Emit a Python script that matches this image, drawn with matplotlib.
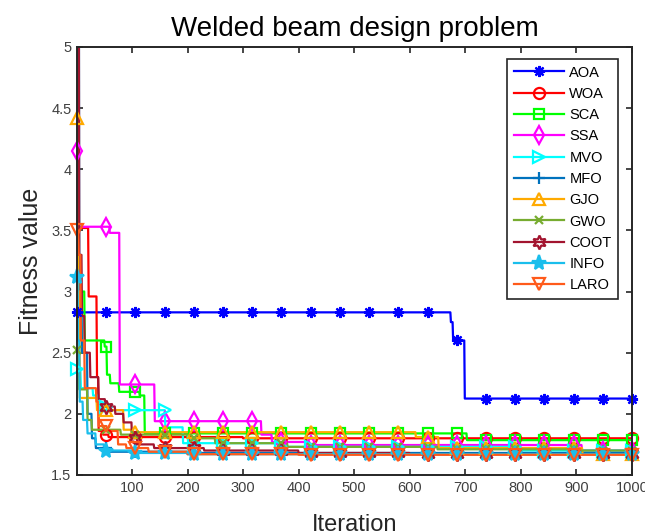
import numpy as np
import matplotlib
matplotlib.use("Agg")
import matplotlib.pyplot as plt
from matplotlib.lines import Line2D

plt.rcParams['font.family'] = ['Liberation Sans', 'DejaVu Sans']

n_iter = 1000
iterations = np.arange(1, n_iter + 1)

# Convergence curves stored as (iteration where the best value changes, new best value)
aoa_it = [1, 674, 678, 699]
aoa_val = [2.83, 2.75, 2.60, 2.125]

woa_it = [1, 3, 22, 37, 40, 48, 58, 300]
woa_val = [6.0, 3.52, 2.96, 2.30, 1.86, 1.83, 1.81, 1.80]

sca_it = [1, 2, 4, 15, 51, 55, 61, 77, 114, 123, 703]
sca_val = [6.0, 4.2, 3.0, 2.60, 2.55, 2.32, 2.25, 2.18, 2.15, 1.84, 1.785]

ssa_it = [1, 3, 60, 78, 141, 333, 352, 420, 910]
ssa_val = [4.15, 3.53, 3.48, 2.24, 1.94, 1.83, 1.77, 1.745, 1.70]

mvo_it = [1, 8, 30, 40, 55, 160, 192, 366, 800]
mvo_val = [2.37, 2.21, 2.15, 2.06, 2.03, 1.89, 1.76, 1.73, 1.70]

mfo_it = [1, 5, 10, 20, 28, 35, 60, 200]
mfo_val = [7.0, 3.0, 2.5, 2.0, 1.80, 1.72, 1.69, 1.68]

gjo_it = [1, 3, 6, 37, 85, 100, 611, 652, 911]
gjo_val = [4.42, 3.0, 2.13, 2.03, 1.87, 1.85, 1.81, 1.72, 1.67]

gwo_it = [1, 5, 20, 28, 80, 200, 250, 380, 650, 900]
gwo_val = [2.52, 2.20, 1.95, 1.87, 1.83, 1.80, 1.76, 1.73, 1.71, 1.70]

coot_it = [1, 5, 10, 15, 25, 40, 52, 70, 85, 100, 110, 140, 230, 400, 600]
coot_val = [6.5, 3.3, 2.8, 2.5, 2.3, 2.12, 2.06, 2.00, 1.93, 1.80, 1.75, 1.72, 1.70, 1.68, 1.67]

info_it = [1, 3, 6, 12, 20, 35, 50, 100, 200]
info_val = [3.12, 2.6, 2.1, 1.95, 1.84, 1.75, 1.70, 1.68, 1.67]

laro_it = [1, 4, 8, 15, 36, 40, 55, 75, 90, 130, 200, 400]
laro_val = [3.5, 3.3, 2.6, 2.21, 2.10, 1.90, 1.86, 1.75, 1.72, 1.69, 1.67, 1.665]

names = ['AOA', 'WOA', 'SCA', 'SSA', 'MVO', 'MFO', 'GJO', 'GWO', 'COOT', 'INFO', 'LARO']
curves = [(aoa_it, aoa_val), (woa_it, woa_val), (sca_it, sca_val), (ssa_it, ssa_val),
          (mvo_it, mvo_val), (mfo_it, mfo_val), (gjo_it, gjo_val), (gwo_it, gwo_val),
          (coot_it, coot_val), (info_it, info_val), (laro_it, laro_val)]

colors = ['#0000FF', '#FF0000', '#00FF00', '#FF00FF', '#00FFFF', '#0072BD',
          '#FFAA00', '#77AC30', '#A2142F', '#1ABEEC', '#FF5A1A']
markers = [(8, 2, 0), 'o', 's', 'd', '>', '+', '^', 'x', (6, 1, 0), '*', 'v']
filled = [False, False, False, False, False, False, False, False, False, True, False]
msizes = [8, 8, 7, 9, 9, 9, 9, 6, 10, 11, 9]

y_lo, y_hi = 1.5, 5.0


def step_curve(change_iters, values, n):
    bounds = list(change_iters) + [n + 1]
    counts = np.diff(bounds)
    return np.repeat(values, counts)


fig = plt.figure(figsize=(6.45, 5.31), dpi=100, facecolor='white')
ax = fig.add_axes([0.1194, 0.1055, 0.8605, 0.806])

mark_idx = np.round(np.linspace(0, n_iter - 1, 20)).astype(int)

handles = []
for name, (it, val), c, m, f, ms in zip(names, curves, colors, markers, filled, msizes):
    y = step_curve(it, val, n_iter)
    # line is clipped to the axes box
    ax.plot(iterations, y, color=c, lw=1.6, zorder=2)
    # markers stay whole at the box edge; those outside the y-range are dropped
    xm = iterations[mark_idx]
    ym = y[mark_idx]
    keep = (ym >= y_lo) & (ym <= y_hi)
    ax.plot(xm[keep], ym[keep], ls='none', marker=m, markersize=ms,
            markeredgewidth=1.6, markerfacecolor=(c if f else 'none'),
            markeredgecolor=c, clip_on=False, zorder=3)
    handles.append(Line2D([], [], color=c, lw=1.6, marker=m, markersize=ms,
                          markeredgewidth=1.6, markerfacecolor=(c if f else 'none'),
                          markeredgecolor=c, label=name))

ax.set_xlim(1, 1000)
ax.set_ylim(y_lo, y_hi)
ax.set_xticks(np.arange(100, 1001, 100))
ax.set_yticks([1.5, 2, 2.5, 3, 3.5, 4, 4.5, 5])
ax.set_yticklabels(['1.5', '2', '2.5', '3', '3.5', '4', '4.5', '5'])

ax.tick_params(direction='in', top=True, right=True, length=4, width=1.2,
               labelsize=10.5, labelcolor='#404040', color='#262626', pad=4)
for s in ax.spines.values():
    s.set_linewidth(1.4)
    s.set_color('#262626')
    s.set_zorder(4)

ax.set_title('Welded beam design problem', fontsize=20, color='black', pad=8)
ax.set_xlabel('Iteration', fontsize=17, color='#262626', labelpad=14)
ax.set_ylabel('Fitness value', fontsize=18, color='#262626', labelpad=6)

leg = ax.legend(handles=handles, loc='upper right', bbox_to_anchor=(0.975, 0.972),
                borderaxespad=0, fontsize=10.5, handlelength=3.4, labelspacing=0.5,
                handletextpad=0.4, borderpad=0.45, fancybox=False, framealpha=1,
                edgecolor='#262626')
leg.get_frame().set_linewidth(1.2)
leg.set_zorder(5)

fig.savefig('out.png', dpi=100, facecolor='white')
